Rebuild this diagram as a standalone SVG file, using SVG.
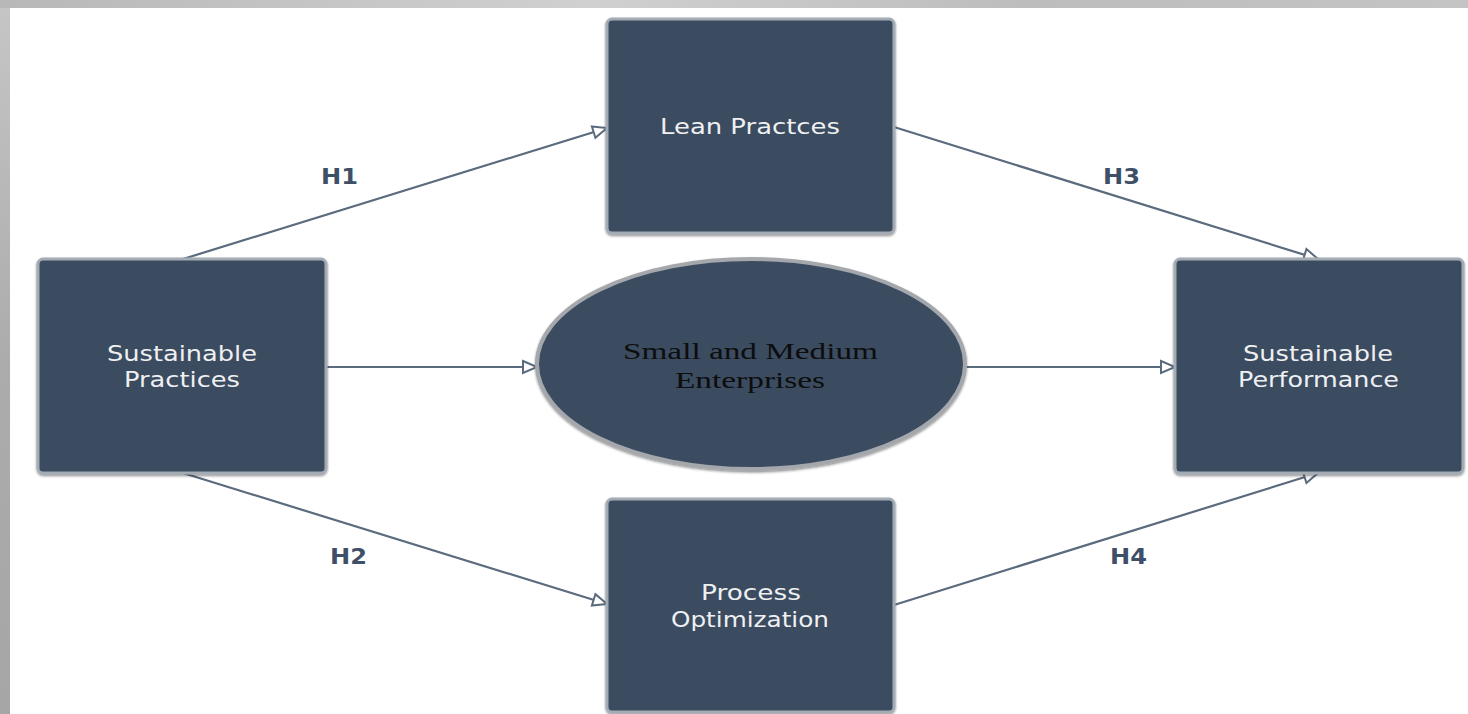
<svg xmlns="http://www.w3.org/2000/svg" width="1468" height="714" viewBox="0 0 1468 714">
<defs>
<linearGradient id="frameTop" x1="0" y1="0" x2="1" y2="0">
<stop offset="0" stop-color="#b8b8b8"/><stop offset="0.4" stop-color="#d0d0d0"/><stop offset="0.7" stop-color="#bdbdbd"/><stop offset="1" stop-color="#c4c4c4"/>
</linearGradient>
<linearGradient id="frameLeft" x1="0" y1="0" x2="0" y2="1">
<stop offset="0" stop-color="#c6c6c6"/><stop offset="0.5" stop-color="#acacac"/><stop offset="1" stop-color="#a6a6a6"/>
</linearGradient>
<marker id="open" markerUnits="userSpaceOnUse" markerWidth="20" markerHeight="16" refX="16" refY="8" orient="auto">
<path d="M2,2 L16,8 L2,14 Z" fill="#ffffff" stroke="#5b6b7e" stroke-width="2" stroke-linejoin="miter"/>
</marker>
<filter id="sh" x="-5%" y="-5%" width="110%" height="110%">
<feDropShadow dx="0" dy="1.5" stdDeviation="1" flood-color="#222" flood-opacity="0.5"/>
</filter>
</defs>
<style>
.box{fill:#3b4c60;stroke:#a3abb4;stroke-width:3;filter:url(#sh)}
.ell{fill:#3b4c60;stroke:#a4a8ad;stroke-width:4;filter:url(#sh)}
.lbl{font-family:"DejaVu Sans",sans-serif;font-size:22px;fill:#eef0f2}
.sme{font-family:"Liberation Serif","DejaVu Serif",serif;font-size:23px;fill:#0d0d0d}
.h{font-family:"DejaVu Sans",sans-serif;font-weight:bold;font-size:21px;fill:#3d5068}
.c{fill:none;stroke:#5b6b7e;stroke-width:2.2;marker-end:url(#open)}
</style>
<rect x="0" y="0" width="1468" height="714" fill="url(#frameLeft)"/>
<rect x="0" y="0" width="1468" height="8" fill="url(#frameTop)"/>
<rect x="10" y="8" width="1458" height="706" fill="#ffffff"/>

<g id="connectors">
<line class="c" x1="183" y1="259" x2="607" y2="128"/>
<line class="c" x1="183" y1="473" x2="607" y2="604"/>
<line class="c" x1="894" y1="127" x2="1318" y2="259"/>
<line class="c" x1="894" y1="605" x2="1318" y2="473"/>
<line class="c" x1="326" y1="367" x2="537" y2="367"/>
<line class="c" x1="965" y1="367" x2="1175" y2="367"/>
<text class="h" x="321" y="184" textLength="37" lengthAdjust="spacingAndGlyphs">H1</text>
<text class="h" x="330" y="564" textLength="37" lengthAdjust="spacingAndGlyphs">H2</text>
<text class="h" x="1103" y="184" textLength="37" lengthAdjust="spacingAndGlyphs">H3</text>
<text class="h" x="1110" y="564" textLength="37" lengthAdjust="spacingAndGlyphs">H4</text>
</g>

<g id="sustainable-practices">
<rect class="box" x="38" y="259" width="288" height="214" rx="5"/>
<text class="lbl" x="107" y="361" textLength="150" lengthAdjust="spacingAndGlyphs">Sustainable</text>
<text class="lbl" x="124" y="387" textLength="116" lengthAdjust="spacingAndGlyphs">Practices</text>
</g>

<g id="lean-practices">
<rect class="box" x="607" y="19" width="287" height="214" rx="5"/>
<text class="lbl" x="660" y="134" textLength="180" lengthAdjust="spacingAndGlyphs">Lean Practces</text>
</g>

<g id="process-optimization">
<rect class="box" x="607" y="499" width="287" height="213" rx="5"/>
<text class="lbl" x="701" y="600" textLength="100" lengthAdjust="spacingAndGlyphs">Process</text>
<text class="lbl" x="671" y="627" textLength="158" lengthAdjust="spacingAndGlyphs">Optimization</text>
</g>

<g id="sustainable-performance">
<rect class="box" x="1175" y="259" width="288" height="214" rx="5"/>
<text class="lbl" x="1243" y="361" textLength="150" lengthAdjust="spacingAndGlyphs">Sustainable</text>
<text class="lbl" x="1238" y="387" textLength="161" lengthAdjust="spacingAndGlyphs">Performance</text>
</g>

<g id="sme">
<ellipse class="ell" cx="751" cy="364" rx="214" ry="105"/>
<text class="sme" x="623" y="359" textLength="255" lengthAdjust="spacingAndGlyphs">Small and Medium</text>
<text class="sme" x="675" y="388" textLength="150" lengthAdjust="spacingAndGlyphs">Enterprises</text>
</g>
</svg>
